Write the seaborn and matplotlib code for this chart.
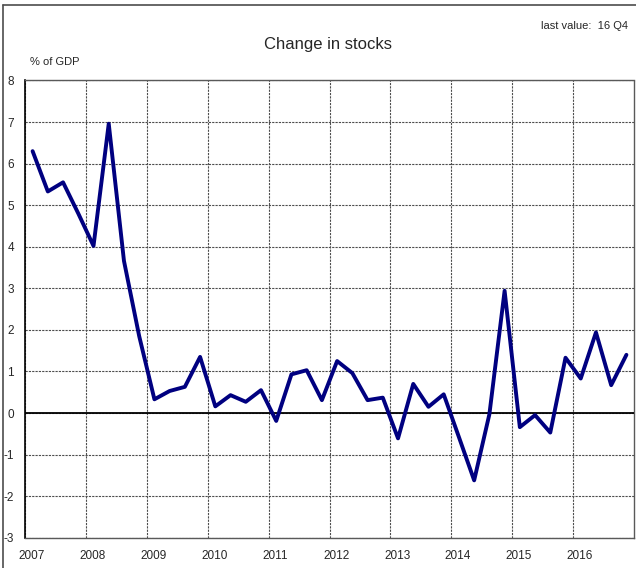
import numpy as np
import pandas as pd
import seaborn as sns
import matplotlib.pyplot as plt
from matplotlib.lines import Line2D

# quarterly change in stocks, % of GDP, 2007 Q1 - 2016 Q4
years = list(range(2007, 2017))
quarters = [1, 2, 3, 4]
values = [
    6.30, 5.33, 5.55, 4.80,   # 2007
    4.02, 6.96, 3.66, 1.85,   # 2008
    0.33, 0.53, 0.63, 1.35,   # 2009
    0.16, 0.43, 0.27, 0.55,   # 2010
    -0.19, 0.93, 1.03, 0.31,  # 2011
    1.25, 0.96, 0.31, 0.37,   # 2012
    -0.61, 0.70, 0.15, 0.45,  # 2013
    -0.58, -1.62, -0.03, 2.94,  # 2014
    -0.34, -0.05, -0.47, 1.33,  # 2015
    0.83, 1.94, 0.67, 1.40,   # 2016
]
y_ticks = list(range(-3, 9))

# mid-quarter position on a yearly axis
t = [y + (q - 0.5) / 4 for y in years for q in quarters]
df = pd.DataFrame({"t": t, "value": values})

sns.set_style("white")
plt.rcParams["font.family"] = ["Liberation Sans", "DejaVu Sans"]

fig = plt.figure(figsize=(6.36, 5.68), dpi=100)
ax = fig.add_axes([0.0393, 0.0533, 0.9576, 0.805])

sns.lineplot(data=df, x="t", y="value", ax=ax, color="#000080", linewidth=2.8, zorder=5)

ax.set_xlim(2007, 2017)
ax.set_ylim(-3, 8)
# gridlines on the year boundaries, labels sit just right of them
ax.set_xticks(years)
ax.set_xticklabels([])
ax.set_xticks([y + 0.11 for y in years], minor=True)
ax.set_xticklabels([str(y) for y in years], minor=True, fontsize=8.5)
ax.set_yticks(y_ticks)
ax.set_yticklabels([str(v) for v in y_ticks], fontsize=8.5)

ax.tick_params(axis="x", which="both", length=0, pad=9)
ax.tick_params(axis="y", length=3, width=0.8, pad=5, direction="out", color="black")
ax.set_xlabel("")
ax.set_ylabel("")

ax.grid(True, which="major", color="0.3", linestyle=(0, (2, 1)), linewidth=0.8)
ax.axhline(0, color="black", linewidth=1.3, zorder=4)

for side in ["top", "right", "bottom"]:
    ax.spines[side].set_color("0.35")
    ax.spines[side].set_linestyle((0, (2, 1)))
    ax.spines[side].set_linewidth(1.0)
ax.spines["left"].set_color("black")
ax.spines["left"].set_linewidth(1.2)

fig.text(0.516, 0.922, "Change in stocks", ha="center", va="center", fontsize=12)
fig.text(0.047, 0.891, "% of GDP", ha="left", va="center", fontsize=8)
fig.text(0.988, 0.955, "last value:  16 Q4", ha="right", va="center", fontsize=8)

# outer frame edges (left and top)
fig.add_artist(Line2D([0.004, 0.004], [0, 0.992], transform=fig.transFigure, color="0.3", linewidth=1.2))
fig.add_artist(Line2D([0.004, 1.0], [0.992, 0.992], transform=fig.transFigure, color="0.3", linewidth=1.2))

fig.savefig("out.png", dpi=100)
